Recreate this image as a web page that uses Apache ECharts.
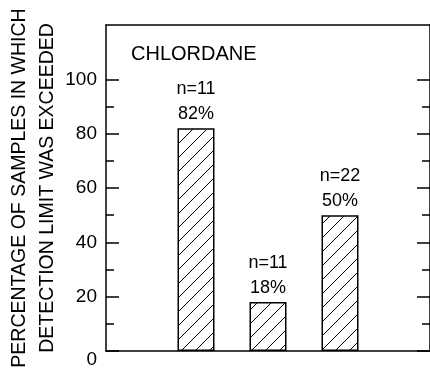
<!DOCTYPE html>
<html><head><meta charset="utf-8">
<script src="https://cdn.jsdelivr.net/npm/echarts@6/dist/echarts.min.js"></script>
<style>html,body{margin:0;padding:0;background:#fff}#c{width:430px;height:372px}</style>
</head><body><div id="c"></div>
<script>
const chartTitle = 'CHLORDANE';
const yAxisTitle = ['PERCENTAGE OF SAMPLES IN WHICH', 'DETECTION LIMIT WAS EXCEEDED'];
const barPositions = [1, 2, 3];
const percentExceeded = [82, 18, 50];
const sampleCounts = [11, 11, 22];
const majorTicks = [0, 20, 40, 60, 80, 100];
const minorTicks = [10, 30, 50, 70, 90];

const FONT = '"Liberation Sans", Arial, Helvetica, sans-serif';
const LINE = { color: '#000', width: 1.5 };

// hatch pattern
const pat = document.createElement('canvas');
const P = 14;
pat.width = P; pat.height = P;
const g = pat.getContext('2d');
g.fillStyle = '#fff'; g.fillRect(0, 0, P, P);
g.strokeStyle = '#000'; g.lineWidth = 1;
g.beginPath();
g.moveTo(-1, P + 1); g.lineTo(P + 1, -1);
g.moveTo(P - 1, P + 1); g.lineTo(P + 1, P - 1);
g.moveTo(-1, 1); g.lineTo(1, -1);
g.stroke();

const base = { type: 'value', min: 0, max: 120, splitLine: { show: false } };
function yAx(pos, ticks, len, line, labels) {
  return Object.assign({}, base, {
    position: pos,
    axisLine: { show: line, onZero: false, lineStyle: LINE },
    axisTick: { show: true, inside: true, length: len, customValues: ticks, lineStyle: LINE },
    axisLabel: labels ? {
      show: true, customValues: majorTicks, margin: 9, color: '#000', fontSize: 19, fontFamily: FONT,
      formatter: v => v === 0 ? '{z|0}' : String(v),
      rich: { z: { fontSize: 19, fontFamily: FONT, color: '#000', padding: [18, 0, 0, 0] } }
    } : { show: false }
  });
}
const xBase = { type: 'value', min: -0.25, max: 4.25, splitLine: { show: false }, axisTick: { show: false }, axisLabel: { show: false } };

const chart = echarts.init(document.getElementById('c'), null, { renderer: 'canvas' });
chart.setOption({
  animation: false,
  backgroundColor: '#fff',
  title: { text: chartTitle, left: 131, top: 44, padding: 0, textStyle: { fontSize: 20, fontWeight: 'normal', color: '#000', fontFamily: FONT } },
  grid: { left: 106, top: 25, width: 326, height: 326 },
  xAxis: [
    Object.assign({}, xBase, { position: 'bottom', axisLine: { show: true, onZero: false, lineStyle: LINE } }),
    Object.assign({}, xBase, { position: 'top', axisLine: { show: true, onZero: false, lineStyle: LINE } })
  ],
  yAxis: [
    yAx('left', majorTicks, 13, true, true),
    yAx('left', minorTicks, 8, false, false),
    yAx('right', majorTicks, 13, true, false),
    yAx('right', minorTicks, 8, false, false)
  ],
  graphic: [{
    type: 'text', x: 34, y: 188, rotation: Math.PI / 2,
    style: { text: yAxisTitle.join('\n'), fontSize: 19.5, fontFamily: FONT, fill: '#000', align: 'center', verticalAlign: 'middle', lineHeight: 28 }
  }],
  series: [{
    type: 'bar', xAxisIndex: 0, yAxisIndex: 0, barWidth: 37,
    data: barPositions.map((x, i) => [x, percentExceeded[i]]),
    itemStyle: { color: { image: pat, repeat: 'repeat' }, borderColor: '#000', borderWidth: 1.5 },
    label: {
      show: true, position: 'top', distance: 2, color: '#000', fontSize: 18, lineHeight: 25, fontFamily: FONT,
      formatter: p => 'n=' + sampleCounts[p.dataIndex] + '\n' + percentExceeded[p.dataIndex] + '%'
    }
  }]
});
</script></body></html>
